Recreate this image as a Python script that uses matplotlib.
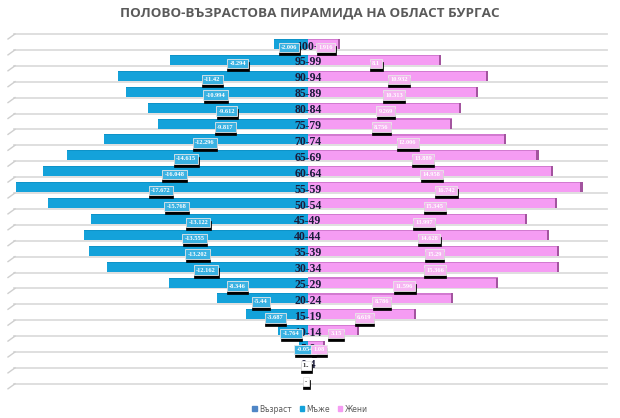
import matplotlib
matplotlib.use("Agg")
import matplotlib.pyplot as plt
import numpy as np

# ---------------- data ----------------
age_groups = ["100+", "95-99", "90-94", "85-89", "80-84", "75-79", "70-74",
              "65-69", "60-64", "55-59", "50-54", "45-49", "40-44", "35-39",
              "30-34", "25-29", "20-24", "15-19", "10-14", "5-9", "0-4", ""]
# bar lengths as drawn in the picture (chart units)
male_bar = [4.2, 16.9, 23.3, 22.3, 19.6, 18.4, 25.0, 29.6, 32.5, 35.8, 31.9,
            26.6, 27.5, 26.9, 24.7, 17.1, 11.2, 7.6, 3.7, 1.1, 0, 0]
female_bar = [3.9, 16.3, 22.1, 20.9, 18.8, 17.7, 24.3, 28.3, 30.1, 33.7, 30.6,
              26.9, 29.6, 30.8, 30.8, 23.3, 17.8, 13.3, 6.3, 2.1, 0, 0]
# data labels as printed
male_labels = ["-2.006", "-8.294", "-11.42", "-10.994", "-9.612", "-9.817",
               "-12.296", "-14.615", "-16.048", "-17.672", "-15.768", "-13.122",
               "-13.555", "-13.202", "-12.162", "-8.346", "-5.44", "-3.687",
               "-1.764", "-0.054", None, None]
female_labels = ["1.916", "8.1", "10.932", "10.313", "9.269", "8.756", "12.006",
                 "13.889", "14.958", "16.742", "15.345", "13.997", "14.628",
                 "15.29", "15.366", "11.596", "8.786", "6.619", "3.15", "1.08",
                 None, None]
extra_labels = [None] * 20 + ["1..", "-"]
legend_names = ["Възраст", "Мъже", "Жени"]
title = "ПОЛОВО-ВЪЗРАСТОВА ПИРАМИДА НА ОБЛАСТ БУРГАС"

# ---------------- style ----------------
W, H = 620, 418
PX_X = 8.15      # pixels per x unit
PX_Y = 15.9      # pixels per row
CX = 308         # centre pixel
TOP = 34         # first gridline pixel
BLUE = "#14a2da"
BLUE_LBL = "#3ab2e2"
BLUE_EDGE = "#0e93c8"
PINK = "#f59cf3"
PINK_LBL = "#f6b4f2"
PINK_EDGE = "#a3549f"
TXT = "#1b1b3a"

fig = plt.figure(figsize=(W / 100, H / 100), dpi=100)
ax = fig.add_axes([0, 0, 1, 1])
ax.set_xlim(-CX / PX_X, (W - CX) / PX_X)
ax.set_ylim((H - TOP) / PX_Y - 0.5, -TOP / PX_Y - 0.5)
ax.axis("off")

n = len(age_groups)
rows = np.arange(n)
dx = 1 / PX_X
dy = 1 / PX_Y

# gridlines with small perspective ticks
for k in range(n + 1):
    y = k - 0.5
    ax.plot([(14 - CX) * dx, (607 - CX) * dx], [y, y], color="#dcdcdc", lw=1.3, zorder=1)
    ax.plot([(8 - CX) * dx, (15 - CX) * dx], [y + 5 * dy, y], color="#cfcfcf", lw=1.0, zorder=1)

yb = rows + (10 / PX_Y) - 0.5
bh = 10 * dy
mb = -np.array(male_bar)
fb = np.array(female_bar)
ax.barh(yb, mb, height=bh, color=BLUE, zorder=3)
ax.barh(yb, fb, height=bh, color=PINK, zorder=3)
# 3D edges
for i in range(n):
    if male_bar[i] > 0:
        ax.barh(yb[i] - bh / 2 + 0.5 * dy, mb[i], height=1.0 * dy, color=BLUE_EDGE, zorder=3.5)
    if female_bar[i] > 0:
        ax.barh(yb[i] - bh / 2 + 0.5 * dy, fb[i], height=1.2 * dy, color="#d27ad0", zorder=3.5)
        ax.barh(yb[i], 2.2 * dx, left=fb[i] - 2.2 * dx, height=bh, color=PINK_EDGE, zorder=3.6)

# category labels (centre)
for i, g in enumerate(age_groups):
    if g:
        ax.text(0, yb[i] + 2.5 * dy, g, ha="center", va="center",
                fontsize=8.5, fontweight="bold", family="Liberation Serif",
                color=TXT, zorder=5)


def box_label(x, y, s, fc, tc):
    kw = dict(ha="center", va="center", fontsize=4.6, fontweight="bold",
              family="Liberation Serif")
    ax.text(x + 0.4 * dx, y + 3 * dy, s, color="black", zorder=6,
            bbox=dict(boxstyle="square,pad=0.35", fc="black", ec="black", lw=0.5), **kw)
    ax.text(x, y, s, color=tc, zorder=7,
            bbox=dict(boxstyle="square,pad=0.35", fc=fc, ec="#e8e8e8", lw=0.6), **kw)


for i in range(n):
    ly = yb[i] + 3.5 * dy
    if male_labels[i] is not None:
        v = abs(float(male_labels[i]))
        box_label(-(v * 8.17 + 2.6) / PX_X, ly, male_labels[i], BLUE_LBL, "white")
    if female_labels[i] is not None:
        v = float(female_labels[i])
        box_label(v * 8.1 / PX_X + 0.3, ly, female_labels[i], PINK_LBL, "white")
    if extra_labels[i] is not None:
        box_label(-2 * dx, ly, extra_labels[i], "white", "#222222")

# title
fig.text(0.5, 1 - 13 / H, title, ha="center", va="center", fontsize=9.7,
         fontweight="bold", family="Open Sans", color="#5a5a5a")

# legend
leg_cols = ["#4f86c6", BLUE, PINK]
handles = [plt.Rectangle((0, 0), 1, 1, color=c) for c in leg_cols]
fig.legend(handles, legend_names, loc="center", bbox_to_anchor=(0.5, 1 - 409 / H),
           ncol=3, frameon=False, fontsize=5.5, handlelength=0.6, handleheight=0.6,
           handletextpad=0.3, columnspacing=1.0, labelcolor="#595959")

fig.savefig("out.png", dpi=100, facecolor="white")
